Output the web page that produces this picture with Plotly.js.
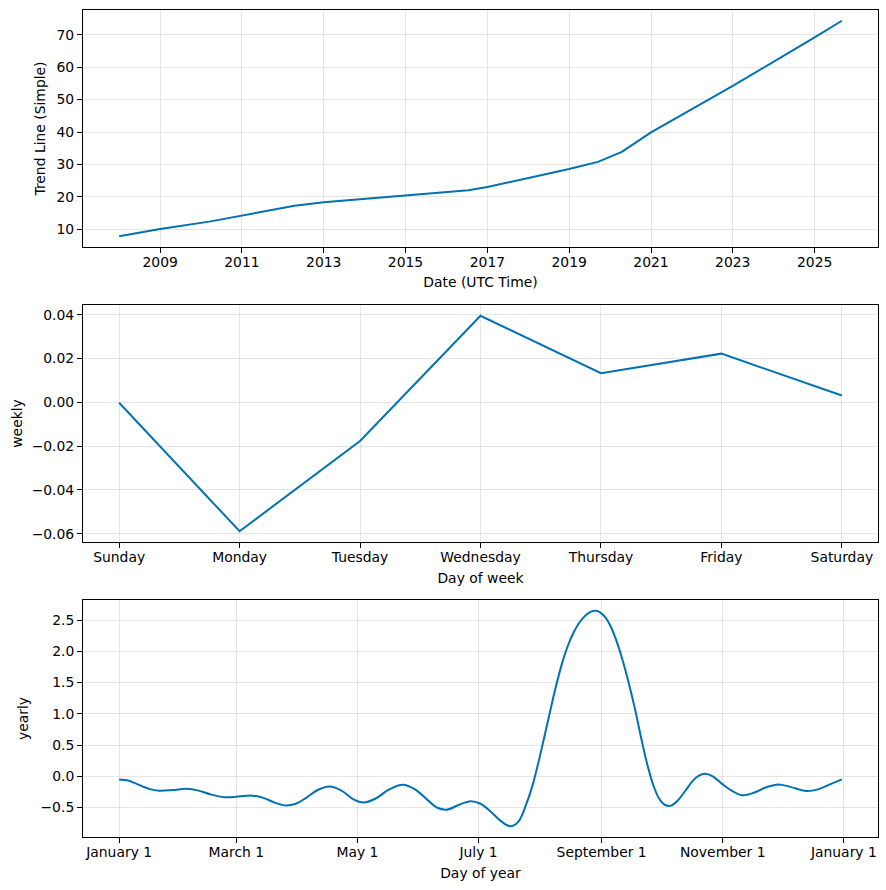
<!DOCTYPE html>
<html>
<head>
<meta charset="utf-8">
<script src="https://cdn.plot.ly/plotly-3.0.1.min.js"></script>
<style>html,body{margin:0;padding:0;background:#fff}#chart{width:886px;height:890px}</style>
</head>
<body>
<div id="chart"></div>
<script>
// ---- Data ----
const trendDates = ['2008-01-01','2009-01-01','2010-03-15','2011-01-01','2012-04-15','2013-01-01',
  '2014-07-01','2015-01-01','2016-07-15','2017-01-01','2019-01-01','2019-09-15','2020-04-15',
  '2021-01-01','2023-01-01','2025-01-01','2025-09-01'];
const trendValues = [7.9,10.1,12.4,14.2,17.3,18.4,20.0,20.4,22.1,23.1,28.6,30.8,33.9,39.9,54.2,69.2,74.3];

const weekDays = ['Sunday','Monday','Tuesday','Wednesday','Thursday','Friday','Saturday'];
const weeklyValues = [-0.0002,-0.0589,-0.0177,0.0395,0.0133,0.0222,0.0031];

const yearlyDayOfYear = [0,4,8,12,16,20,27,34,40,46,53,60,67,73,79,84,89,94,100,106,112,118,123,129,136,143,
  149,155,160,165,171,177,182,187,192,197,201,205,208,211,214,217,220,223,226,229,232,235,238,240,242,245,248,251,
  254,257,260,263,266,269,272,275,278,281,285,289,292,295,299,304,309,314,320,326,332,338,346,352,358,364];
const yearlyValues = [-0.05,-0.065,-0.11,-0.165,-0.21,-0.23,-0.22,-0.20,-0.23,-0.29,-0.335,-0.325,-0.31,-0.35,-0.43,
  -0.468,-0.44,-0.35,-0.22,-0.165,-0.23,-0.37,-0.42,-0.36,-0.21,-0.135,-0.21,-0.37,-0.50,-0.535,-0.46,-0.40,
  -0.44,-0.56,-0.71,-0.80,-0.73,-0.45,-0.17,0.20,0.61,1.03,1.44,1.80,2.09,2.31,2.47,2.58,2.64,2.65,2.63,2.54,2.37,2.12,
  1.81,1.45,1.05,0.60,0.19,-0.14,-0.36,-0.46,-0.47,-0.40,-0.24,-0.07,0.01,0.04,0.0,-0.13,-0.24,-0.305,-0.26,-0.175,
  -0.13,-0.17,-0.235,-0.21,-0.13,-0.05];
const yearlyTickDates = ['2017-01-01','2017-03-01','2017-05-01','2017-07-01','2017-09-01','2017-11-01','2018-01-01'];
const yearlyTickLabels = ['January 1','March 1','May 1','July 1','September 1','November 1','January 1'];

// ---- Helpers ----
function pad(lo, hi){ const d=(hi-lo)*0.05; return [lo-d, hi+d]; }
function dayToDate(d){ const t=new Date(Date.UTC(2017,0,1)); t.setUTCDate(t.getUTCDate()+d); return t.toISOString().slice(0,10); }
function dateMs(s){ return Date.parse(s+'T00:00:00Z'); }
function msToStr(ms){ return new Date(ms).toISOString().replace('T',' ').slice(0,19); }

const yearlyDates = yearlyDayOfYear.map(dayToDate);

const tMin=dateMs(trendDates[0]), tMax=dateMs(trendDates[trendDates.length-1]);
const tR = pad(tMin,tMax).map(msToStr);
const yMin=dateMs(yearlyDates[0]), yMax=dateMs(yearlyDates[yearlyDates.length-1]);
const yR = pad(yMin,yMax).map(msToStr);

const lineColor = '#0072B2';
const FONT = 'DejaVu Sans, sans-serif';
const FS = 13.9;

function axisBase(){
  return {
    showline:true, mirror:true, linecolor:'black', linewidth:1,
    ticks:'outside', ticklen:5, tickwidth:1, tickcolor:'black',
    showgrid:true, gridcolor:'rgba(128,128,128,0.2)', gridwidth:1,
    zeroline:false, tickfont:{family:FONT,size:FS,color:'black'},
    automargin:false
  };
}
function xBase(){ return Object.assign(axisBase(), {ticklabelstandoff:-3}); }
function ttl(text, standoff){ return {text:text, font:{family:FONT,size:FS,color:'black'}, standoff:standoff}; }

const traces = [
  {x:trendDates, y:trendValues, type:'scatter', mode:'lines', line:{color:lineColor,width:2}, xaxis:'x', yaxis:'y'},
  {x:weekDays.map((_,i)=>i), y:weeklyValues, type:'scatter', mode:'lines', line:{color:lineColor,width:2}, xaxis:'x2', yaxis:'y2'},
  {x:yearlyDates, y:yearlyValues, type:'scatter', mode:'lines', line:{color:lineColor,width:2, shape:'spline', smoothing:1}, xaxis:'x3', yaxis:'y3'}
];

const H = 827;
const layout = {
  width:886, height:890,
  margin:{l:83, r:8, t:10, b:53},
  paper_bgcolor:'white', plot_bgcolor:'white',
  showlegend:false,
  font:{family:FONT, size:FS, color:'black'},
  xaxis: Object.assign(xBase(), {
    type:'date', domain:[0,1], anchor:'y', range:tR,
    dtick:'M24', tick0:'2009-01-01', tickformat:'%Y',
    title:ttl('Date (UTC Time)', 8)
  }),
  yaxis: Object.assign(axisBase(), {
    domain:[590/H, 1], anchor:'x', range:pad(Math.min(...trendValues), Math.max(...trendValues)),
    dtick:10, tick0:0,
    title:ttl('Trend Line (Simple)', 7)
  }),
  xaxis2: Object.assign(xBase(), {
    domain:[0,1], anchor:'y2', range:[-0.3, weekDays.length-1+0.3],
    tickmode:'array', tickvals:weekDays.map((_,i)=>i), ticktext:weekDays,
    title:ttl('Day of week', 9)
  }),
  yaxis2: Object.assign(axisBase(), {
    domain:[295/H, 532/H], anchor:'x2', range:pad(Math.min(...weeklyValues), Math.max(...weeklyValues)),
    dtick:0.02, tick0:0, tickformat:'.2f',
    title:ttl('weekly', 5)
  }),
  xaxis3: Object.assign(xBase(), {
    type:'date', domain:[0,1], anchor:'y3', range:yR,
    tickmode:'array', tickvals:yearlyTickDates, ticktext:yearlyTickLabels,
    title:ttl('Day of year', 9)
  }),
  yaxis3: Object.assign(axisBase(), {
    domain:[0, 237/H], anchor:'x3', range:pad(Math.min(...yearlyValues), Math.max(...yearlyValues)),
    dtick:0.5, tick0:0, tickformat:'.1f',
    title:ttl('yearly', 8)
  })
};

Plotly.newPlot('chart', traces, layout, {displayModeBar:false, staticPlot:true});
</script>
</body>
</html>
